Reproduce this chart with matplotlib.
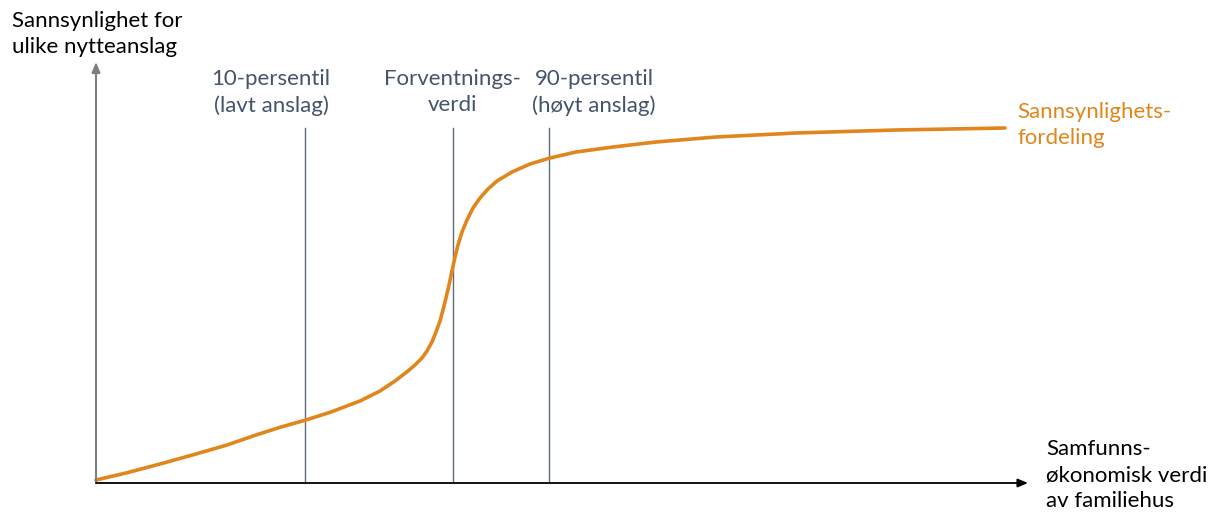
import matplotlib
matplotlib.use("Agg")
import matplotlib.pyplot as plt

# curve readings (x = px right of origin, y = px above origin)
curve_x = [0, 30, 64, 100, 131, 160, 185, 210, 235, 264, 284, 299, 312, 320, 326,
           331, 336, 340, 344, 347, 350, 353, 356, 359, 362, 366, 371, 377, 384, 392,
           401, 416, 434, 454, 480, 517, 560, 620, 700, 800, 909]
curve_y = [3, 10, 19, 29, 38, 48, 56, 63, 71, 82, 92, 102, 112, 119, 125,
           132, 141, 151, 162, 173, 185, 198, 212, 226, 238, 251, 263, 275, 285, 294,
           302, 311, 319, 325, 331, 336, 341, 346, 350, 353, 355]

percentile_x = [209, 357, 453]
percentile_label_x = [175, 356, 498]
percentile_labels = ["10-persentil\n(lavt anslag)", "Forventnings-\nverdi", "90-persentil\n(høyt anslag)"]
vline_top = 355

ORANGE = "#E0861C"
SLATE = "#44546A"

plt.rcParams['font.family'] = ['Lato', 'DejaVu Sans']

fig = plt.figure(figsize=(12.19, 5.25), dpi=100)
ax = fig.add_axes([0, 0, 1, 1])
ax.set_xlim(-96, 1123)
ax.set_ylim(-42, 483)
ax.axis("off")

# axes arrows
ax.annotate("", xy=(0, 421), xytext=(0, 0),
            arrowprops=dict(arrowstyle="-|>,head_length=0.6,head_width=0.25", color="#7f7f7f", lw=1.5, shrinkA=0, shrinkB=0))
ax.annotate("", xy=(932, 0), xytext=(0, 0),
            arrowprops=dict(arrowstyle="-|>,head_length=0.6,head_width=0.25", color="black", lw=1.3, shrinkA=0, shrinkB=0))

for x, lx, lab in zip(percentile_x, percentile_label_x, percentile_labels):
    ax.plot([x, x], [0, vline_top], color=SLATE, lw=1.0, alpha=0.85)
    ax.text(lx, 414, lab, ha="center", va="top",
            color=SLATE, fontsize=16, linespacing=1.38)

ax.plot(curve_x, curve_y, color=ORANGE, lw=2.6, solid_capstyle="round", solid_joinstyle="round")

ax.text(-84, 472, "Sannsynlighet for\nulike nytteanslag", ha="left", va="top",
        fontsize=16, linespacing=1.38, color="black")
ax.text(921, 381, "Sannsynlighets-\nfordeling", ha="left", va="top",
        fontsize=16, linespacing=1.38, color=ORANGE)
ax.text(950, 44, "Samfunns-\nøkonomisk verdi\nav familiehus", ha="left", va="top",
        fontsize=16, linespacing=1.38, color="black")

fig.savefig("out.png", dpi=100)
